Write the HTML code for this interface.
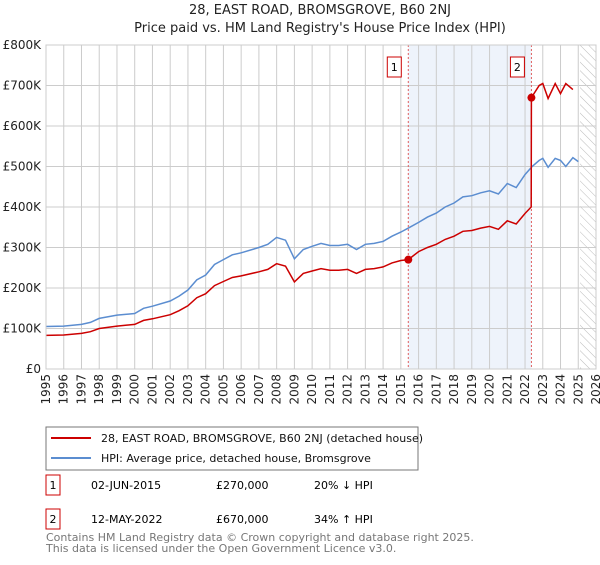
<!DOCTYPE html>
<html><head><meta charset="utf-8"><style>
body{margin:0;background:#fff;font-family:"Liberation Sans","DejaVu Sans",sans-serif;}
svg text{font-family:"DejaVu Sans","Liberation Sans",sans-serif;}
</style></head><body>
<svg id="c" width="600" height="560" xmlns="http://www.w3.org/2000/svg">
<defs><pattern id="hatch" width="6" height="6" patternUnits="userSpaceOnUse" patternTransform="rotate(-45)"><line x1="0" y1="0" x2="0" y2="6" stroke="#bbb" stroke-width="1"/></pattern></defs>
<text x="320" y="14" text-anchor="middle" font-size="13" fill="#222">28, EAST ROAD, BROMSGROVE, B60 2NJ</text>
<text x="320" y="32" text-anchor="middle" font-size="13" fill="#222">Price paid vs. HM Land Registry's House Price Index (HPI)</text>
<g id="grid"></g><g id="marks"></g>
<rect x="46" y="427" width="372" height="43" fill="#fff" stroke="#777"/>
<line x1="51" y1="438" x2="91" y2="438" stroke="#cc0000" stroke-width="2"/>
<text x="101" y="442" font-size="11" fill="#111">28, EAST ROAD, BROMSGROVE, B60 2NJ (detached house)</text>
<line x1="51" y1="458" x2="91" y2="458" stroke="#5b8dd0" stroke-width="2"/>
<text x="101" y="462" font-size="11" fill="#111">HPI: Average price, detached house, Bromsgrove</text>
<rect x="46" y="475" width="14" height="20" fill="#fff" stroke="#cc0000"/>
<text x="53" y="489" font-size="11" text-anchor="middle">1</text>
<text x="91" y="489" font-size="11">02-JUN-2015</text>
<text x="216" y="489" font-size="11">£270,000</text>
<text x="314" y="489" font-size="11">20% ↓ HPI</text>
<rect x="46" y="509" width="14" height="20" fill="#fff" stroke="#cc0000"/>
<text x="53" y="523" font-size="11" text-anchor="middle">2</text>
<text x="91" y="523" font-size="11">12-MAY-2022</text>
<text x="216" y="523" font-size="11">£670,000</text>
<text x="314" y="523" font-size="11">34% ↑ HPI</text>
<text x="46" y="541" font-size="11" fill="#777">Contains HM Land Registry data © Crown copyright and database right 2025.</text>
<text x="46" y="552" font-size="11" fill="#777">This data is licensed under the Open Government Licence v3.0.</text>
</svg>
<script>
const hpiT=[1995,1996,1997,1997.5,1998,1999,2000,2000.5,2001,2002,2002.5,2003,2003.5,2004,2004.5,2005,2005.5,2006,2007,2007.5,2008,2008.5,2009,2009.5,2010,2010.5,2011,2011.5,2012,2012.5,2013,2013.5,2014,2014.5,2015,2015.5,2016,2016.5,2017,2017.5,2018,2018.5,2019,2019.5,2020,2020.5,2021,2021.5,2022,2022.4,2022.8,2023,2023.3,2023.7,2024,2024.3,2024.7,2025];
const hpiV=[105,106,110,115,125,133,137,150,155,168,180,195,220,232,258,270,282,287,300,308,325,318,272,295,303,310,305,305,308,295,308,310,315,328,338,350,362,375,385,400,410,425,428,435,440,432,458,448,480,500,515,520,498,520,515,500,522,512];
const redT=[1995,1996,1997,1997.5,1998,1999,2000,2000.5,2001,2002,2002.5,2003,2003.5,2004,2004.5,2005,2005.5,2006,2007,2007.5,2008,2008.5,2009,2009.5,2010,2010.5,2011,2011.5,2012,2012.5,2013,2013.5,2014,2014.5,2015,2015.42,2016,2016.5,2017,2017.5,2018,2018.5,2019,2019.5,2020,2020.5,2021,2021.5,2022,2022.35,2022.36,2022.8,2023,2023.3,2023.7,2024,2024.3,2024.7,2025];
const redV=[83,84,88,92,100,106,110,120,124,134,144,156,176,186,206,216,226,230,240,246,260,254,215,236,242,248,244,244,246,236,246,248,252,262,268,270,290,300,308,320,328,340,342,348,352,345,366,358,384,400,670,700,705,668,705,680,705,690];
const sales=[{n:"1",t:2015.42,v:270},{n:"2",t:2022.36,v:670}];
const yTicks=[0,100,200,300,400,500,600,700,800];
const yLabels=["£0","£100K","£200K","£300K","£400K","£500K","£600K","£700K","£800K"];
const xYears=[];for(let y=1995;y<=2026;y++)xYears.push(y);
const X0=46,X1=596,Y0=369,Y1=45;
const x=t=>X0+(t-1995)*(X1-X0)/31;
const y=v=>Y0-(v/800)*(Y0-Y1);
const NS="http://www.w3.org/2000/svg";
function mk(tag,attrs,parent){const e=document.createElementNS(NS,tag);for(const k in attrs)e.setAttribute(k,attrs[k]);parent.appendChild(e);return e;}
const g=document.getElementById('grid'),m=document.getElementById('marks');
let r=mk('rect',{x:x(sales[0].t),y:Y1,width:x(sales[1].t)-x(sales[0].t),height:Y0-Y1,fill:'#eef3fb'},g);


let h=mk('rect',{x:x(2025.1),y:Y1,width:X1-x(2025.1),height:Y0-Y1,fill:'url(#hatch)'},g);


yTicks.forEach((v,i)=>{
 mk('line',{x1:X0,x2:X1,y1:y(v),y2:y(v),stroke:'#ccc'},g);
 const t=mk('text',{x:X0-5,y:y(v)+4,'text-anchor':'end','font-size':12,fill:'#222'},g);t.textContent=yLabels[i];
 
 
});
xYears.forEach(yr=>{
 mk('line',{x1:x(yr),x2:x(yr),y1:Y1,y2:Y0,stroke:'#ccc'},g);
 const t=mk('text',{x:0,y:0,'text-anchor':'end','font-size':12,fill:'#222',transform:`translate(${x(yr)+4},${Y0+5}) rotate(-90)`},g);t.textContent=yr;
 
 
});
sales.forEach(s=>{
 const l=mk('line',{x1:x(s.t),x2:x(s.t),y1:Y1,y2:Y0,stroke:'#e06060','stroke-dasharray':'2,2'},m);
 
 
 const b=mk('rect',{x:x(s.t)-21,y:57,width:14,height:20,fill:'#fff',stroke:'#cc0000'},m);
 
 
 const t=mk('text',{x:x(s.t)-14,y:71,'text-anchor':'middle','font-size':11},m);t.textContent=s.n;
});
const path=(T,V)=>T.map((t,i)=>(i?'L':'M')+x(t).toFixed(1)+','+y(V[i]).toFixed(1)).join('');
const hp=mk('path',{d:path(hpiT,hpiV),fill:'none',stroke:'#5b8dd0','stroke-width':1.5},m);


const rp=mk('path',{d:path(redT,redV),fill:'none',stroke:'#cc0000','stroke-width':1.5},m);


sales.forEach(s=>{
 const c=mk('circle',{cx:x(s.t),cy:y(s.v),r:4,fill:'#cc0000'},m);
 
 
});
mk('rect',{x:X0,y:Y1,width:X1-X0,height:Y0-Y1,fill:'none',stroke:'#ccc'},m);
</script>
</body></html>
